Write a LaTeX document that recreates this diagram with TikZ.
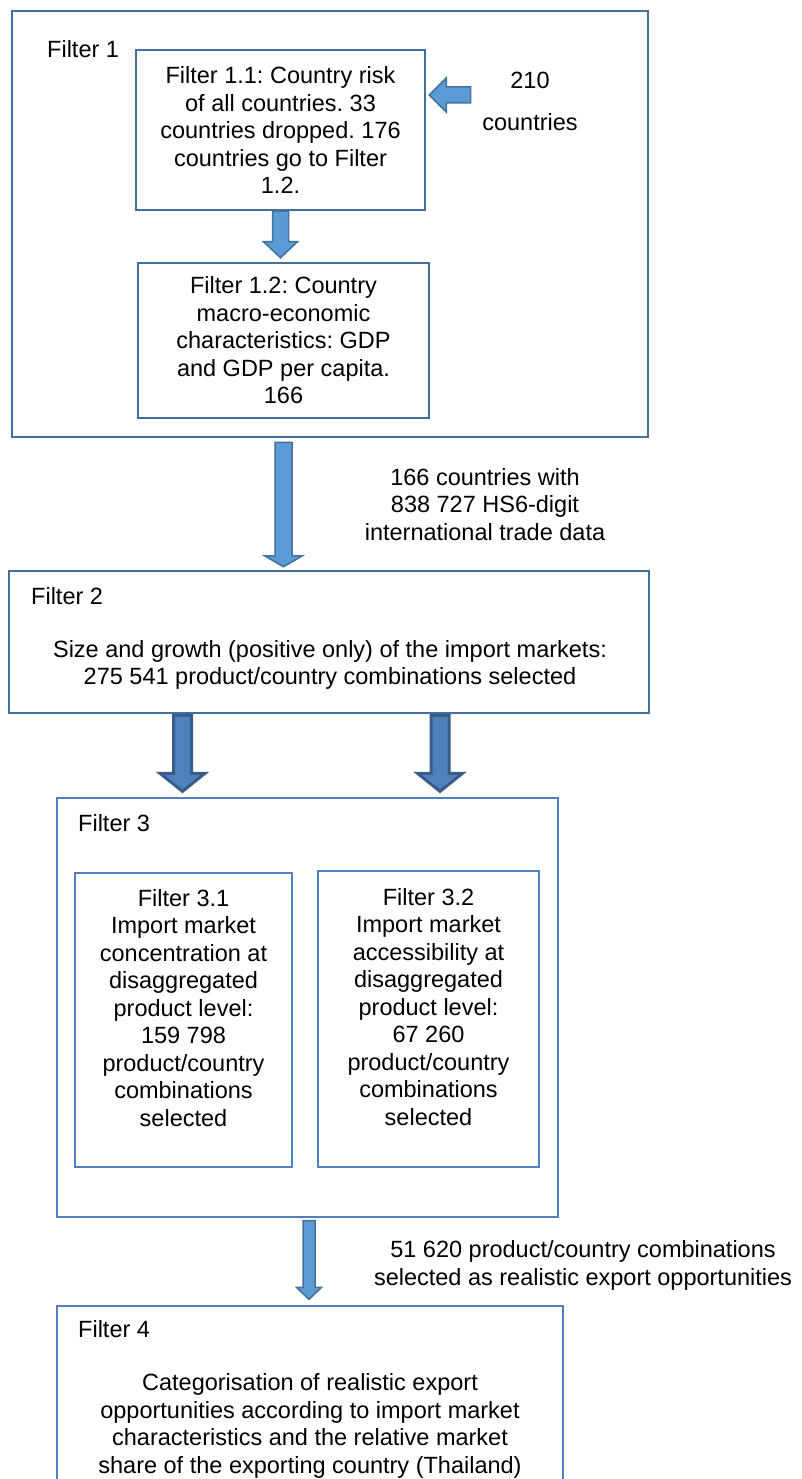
\documentclass[tikz,border=0pt]{standalone}
\usepackage{fontspec}
\setmainfont{Liberation Sans}
\usetikzlibrary{calc}
\definecolor{boxblue}{RGB}{65,113,156}
\definecolor{thinblue}{RGB}{79,129,189}
\definecolor{arrowfill}{RGB}{91,155,213}
\definecolor{darkfill}{RGB}{79,129,189}
\definecolor{darkedge}{RGB}{56,93,138}
\frenchspacing

% block arrow: style, tail, tip, shaft half width, head half width, head length
\newcommand{\fatarrow}[6]{%
  \coordinate (fa-h) at ($(#3)!#6!(#2)$);
  \filldraw[#1] ($(#2)!#4!90:(#3)$) -- ($(fa-h)!#4!90:(#3)$) -- ($(fa-h)!#5!90:(#3)$)
    -- (#3) -- ($(fa-h)!#5!-90:(#3)$) -- ($(fa-h)!#4!-90:(#3)$) -- ($(#2)!#4!-90:(#3)$) -- cycle;}

\begin{document}
\begin{tikzpicture}[x=1pt,y=-1pt,
    font=\fontsize{23.5}{27.5}\selectfont,
    thickbox/.style={draw=boxblue, line width=2.5pt, inner sep=0pt, align=center},
    thinbox/.style={draw=thinblue, line width=1.3pt, inner sep=0pt, align=center},
    lbl/.style={anchor=west, inner sep=0pt},
    txt/.style={inner sep=0pt, align=center},
    fatlight/.style={fill=arrowfill, draw=boxblue, line width=1.5pt, line join=miter},
    fatdark/.style={fill=darkfill, draw=darkedge, line width=3pt, line join=miter}]
  \useasboundingbox (0,0) rectangle (801,1479);
  \clip (0,0) rectangle (801,1479);

  % Filter 1
  \node[thickbox, minimum width=636pt, minimum height=426pt] (f1) at (330,224) {};
  \node[lbl] (f1lbl) at (47,49) {Filter 1};
  \node[thickbox, minimum width=289pt, minimum height=160pt] (f11) at (280.5,130)
    {Filter 1.1: Country risk\\of all countries. 33\\countries dropped. 176\\countries go to Filter\\1.2.};
  \node[thickbox, minimum width=291pt, minimum height=155pt] (f12) at (283.5,340.5)
    {Filter 1.2: Country\\macro-economic\\characteristics: GDP\\and GDP per capita.\\166};
  \node[txt] (src) at (530,101) {210\\[14.5pt]countries};

  % Filter 2
  \node[thickbox, minimum width=640pt, minimum height=142pt] (f2) at (329,642) {};
  \node[lbl] (f2lbl) at (31,596) {Filter 2};
  \node[txt] (f2txt) at (330,665)
    {Size and growth (positive only) of the import markets:\\275 541 product/country combinations selected};
  \node[txt] (trade) at (485,504.5) {166 countries with\\838 727 HS6-digit\\international trade data};

  % Filter 3
  \node[thinbox, minimum width=501pt, minimum height=419pt] (f3) at (307.5,1007.5) {};
  \node[lbl] (f3lbl) at (78,823) {Filter 3};
  \node[thinbox, minimum width=217pt, minimum height=294pt] (f31) at (183.5,1020) {};
  \node[txt] (f31txt) at ($(f31.center)+(0,-12)$)
    {Filter 3.1\\Import market\\concentration at\\disaggregated\\product level:\\159 798\\product/country\\combinations\\selected};
  \node[thinbox, minimum width=221pt, minimum height=296pt] (f32) at (428.5,1019) {};
  \node[txt] (f32txt) at ($(f32.center)+(0,-12)$)
    {Filter 3.2\\Import market\\accessibility at\\disaggregated\\product level:\\67 260\\product/country\\combinations\\selected};

  % Filter 4
  \node[thinbox, minimum width=506pt, minimum height=194pt] (f4) at (310,1403) {};
  \node[lbl] (f4lbl) at (78,1329) {Filter 4};
  \node[txt] (f4txt) at (310,1426)
    {Categorisation of realistic export\\opportunities according to import market\\characteristics and the relative market\\share of the exporting country (Thailand)};
  \node[txt] (opps) at (583,1265.5)
    {51 620 product/country combinations\\selected as realistic export opportunities};

  % block arrows
  \coordinate (a0s) at ($(src.west)+(-11.5,-6)$);
  \coordinate (a0e) at ($(f11.east |- a0s)+(3,0)$);
  \fatarrow{fatlight}{a0s}{a0e}{8pt}{17pt}{17pt}
  \coordinate (a1e) at ($(f11.south |- f12.north)+(0,-4)$);
  \fatarrow{fatlight}{f11.south}{a1e}{8pt}{17pt}{16pt}
  \coordinate (a2s) at ($(f12.south |- f1.south)+(0,4)$);
  \coordinate (a2e) at ($(f12.south |- f2.north)+(0,-3)$);
  \fatarrow{fatlight}{a2s}{a2e}{8.5pt}{19pt}{11pt}
  \coordinate (a3s) at ($(f31.north |- f2.south)+(-1,1)$);
  \coordinate (a3e) at ($(f31.north |- f3.north)+(-1,-6)$);
  \fatarrow{fatdark}{a3s}{a3e}{9pt}{22.5pt}{18pt}
  \coordinate (a4s) at ($(f32.north |- f2.south)+(11.5,1)$);
  \coordinate (a4e) at ($(f32.north |- f3.north)+(11.5,-6)$);
  \fatarrow{fatdark}{a4s}{a4e}{9pt}{22.5pt}{18pt}
  \coordinate (a5s) at ($(f3.south)+(1.5,3)$);
  \coordinate (a5e) at ($(f3.south |- f4.north)+(1.5,-6)$);
  \fatarrow{fatlight}{a5s}{a5e}{6pt}{12.5pt}{12pt}
\end{tikzpicture}
\end{document}
